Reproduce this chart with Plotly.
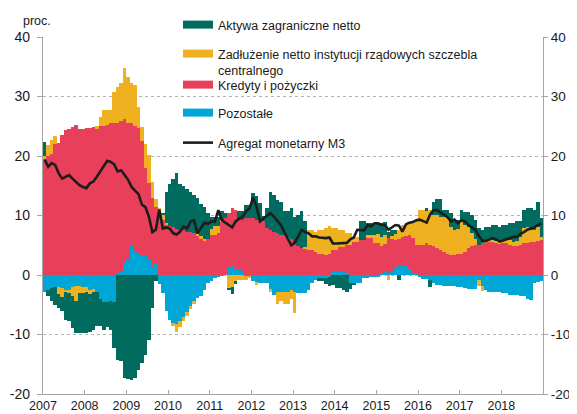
import plotly.graph_objects as go

# miesiące od 01.2007 do 12.2018, wartości w proc. (r/r)
lata = [str(r) for r in range(2007, 2019)]
poziomy = [-20, -10, 0, 10, 20, 30, 40]
etykiety_y = [str(v) for v in poziomy]

kredyty = [
    19.5, 20.0, 20.3, 22.0, 22.2, 23.5, 24.3, 24.5, 24.8, 25.2, 24.5, 24.5,
    24.7, 24.7, 24.8, 24.5, 25.0, 25.0, 25.2, 25.5, 25.5, 25.2, 25.3, 24.2,
    23.0, 20.7, 21.0, 21.2, 19.2, 14.7, 13.0, 11.6, 9.5, 10.5, 9.3, 8.5,
    8.2, 8.0, 7.8, 7.6, 7.5, 7.3, 7.2, 7.0, 6.6, 6.0, 5.8, 6.0,
    6.7, 6.8, 7.0, 9.0, 9.5, 9.0, 9.7, 9.9, 8.5, 8.7, 9.5, 9.5,
    9.5, 9.3, 9.2, 9.0, 7.9, 7.6, 7.3, 7.0, 6.7, 6.7, 6.4, 6.1,
    5.3, 4.9, 4.6, 4.3, 4.2, 4.2, 3.9, 3.6, 3.6, 3.4, 3.6, 3.5,
    3.5, 4.0, 4.2, 4.7, 5.0, 5.6, 5.6, 5.9, 5.9, 6.2, 6.2, 5.3,
    5.3, 4.5, 4.7, 6.0, 5.6, 4.5, 4.5, 4.7, 5.0, 5.7, 5.9, 4.9,
    5.0, 5.0, 5.3, 5.0, 4.8, 4.5, 4.2, 3.9, 3.6, 3.4, 3.4, 3.5,
    3.6, 3.9, 4.5, 4.8, 5.0, 5.0, 5.3, 5.4, 5.6, 5.6, 5.4, 5.3,
    5.3, 5.3, 5.0, 4.8, 4.9, 5.0, 5.3, 5.4, 5.6, 5.6, 5.7, 5.9,
]

pozostale = [
    -2.8, -2.5, -2.2, -2.0, -2.0, -2.2, -2.6, -2.5, -2.0, -1.8, -1.8, -2.0,
    -2.0, -2.5, -2.5, -2.8, -4.0, -4.5, -4.5, -4.3, -4.5, 0.3, 0.5, 2.0,
    2.5, 4.8, 4.0, 3.5, 3.3, 3.3, 2.5, 1.4, 2.0, -1.5, -3.0, -6.0,
    -7.5, -8.1, -8.3, -7.8, -7.0, -6.2, -5.2, -4.5, -3.9, -3.6, -2.5, -1.3,
    -1.0, -0.5, -0.3, -0.1, 0.0, 1.4, 1.6, 1.0, 0.8, 0.6, -0.2, -0.2,
    -1.0, -1.1, -1.3, -1.4, -1.4, -2.5, -3.4, -2.8, -2.8, -2.8, -2.8, -2.5,
    -2.8, -3.1, -3.1, -3.0, -2.5, -1.4, -0.8, -0.5, -0.5, -0.5, -0.3, 0.7,
    0.7, 0.7, 0.5, 0.3, -1.3, -1.4, -1.4, -1.3, -0.5, -0.5, -0.4, -0.3,
    -0.2, 0.3, 0.5, 0.3, 0.5, 1.4, 1.5, 1.7, 1.6, 1.0, 0.3, 0.1,
    -0.3, -0.6, -0.6, -0.8, -1.4, -1.7, -1.7, -1.8, -1.9, -1.9, -1.9, -2.0,
    -2.0, -2.1, -2.3, -2.4, -2.4, -0.8, -1.9, -2.6, -2.8, -2.8, -2.8, -2.8,
    -3.0, -3.1, -3.3, -3.4, -3.4, -3.5, -3.6, -4.1, -4.2, -1.4, -1.2, -1.0,
]

zadluzenie = [
    0.5, 1.8, 2.4, 1.3, -1.2, -1.5, -0.3, -0.5, -1.5, -2.5, -1.2, -1.0,
    -0.8, -0.7, -0.3, 0.5, 1.5, 2.7, 2.5, 2.3, 5.3, 6.1, 6.4, 8.6,
    7.8, 6.7, 7.0, 3.5, 2.4, 4.0, 4.7, 2.6, 1.3, 0.8, 0.8, 0.3,
    0.0, -0.5, -1.2, -1.0, -0.8, -0.7, -0.5, -0.3, 0.3, 0.5, 0.3, 0.0,
    1.0, 1.4, 1.3, 0.2, 0.0, -2.2, -2.0, -1.0, -0.8, -0.8, -0.6, -0.3,
    0.0, -0.5, 0.0, 0.0, 0.0, -0.3, 0.0, -2.0, -1.5, -2.0, -2.0, -1.5,
    -3.6, 0.0, 0.0, 0.4, 3.4, 3.4, 3.4, 4.0, 4.0, 4.5, 4.6, 3.7,
    3.7, 2.9, 2.9, 2.0, 2.0, 0.8, 0.8, 0.0, 0.0, 0.5, 0.5, 1.4,
    1.6, 1.6, 1.5, -0.8, 0.5, 1.0, 1.6, 2.0, 1.8, 2.0, 2.5, 4.2,
    5.9, 5.9, 5.5, 6.0, 5.3, 5.6, 5.6, 5.9, 6.0, 4.7, 4.2, 4.3,
    5.4, 4.5, 3.5, 2.2, 1.0, -1.0, -0.8, 0.2, 0.2, 0.2, 0.3, 0.3,
    0.5, 0.8, 0.9, 0.8, 0.8, 1.4, 2.6, 2.7, 2.0, 2.0, 2.3, 0.5,
]

aktywa = [
    2.3, -1.0, -2.1, -3.0, -2.3, -2.3, -4.7, -4.8, -5.4, -5.5, -6.8, -6.8,
    -7.0, -6.3, -6.4, -5.8, -4.6, -4.7, -4.3, -5.0, -7.8, -14.3, -14.5, -17.3,
    -17.5, -17.6, -17.3, -16.0, -14.8, -13.5, -10.9, -5.6, -1.0, 0.0, 0.3, 5.2,
    7.1, 8.1, 9.3, 7.7, 7.5, 7.2, 6.8, 6.5, 6.1, 5.5, 5.3, 4.5,
    2.1, 1.6, 1.5, 1.5, 1.0, -0.3, -1.2, -0.5, 1.4, 1.4, 2.3, 2.3,
    4.3, 3.9, 2.9, 1.0, 3.4, 6.4, 6.2, 5.6, 5.6, 4.0, 4.3, 5.1,
    4.5, 5.2, 6.1, 4.3, 0.0, 0.0, 0.0, -0.5, -0.5, -1.0, -1.5, -1.6,
    -2.2, -2.2, -2.5, -2.8, -1.0, -0.3, 0.0, 3.1, 3.1, 2.0, 2.0, 2.0,
    1.8, 2.3, 2.2, 1.0, 0.9, 0.7, -0.8, 0.0, 0.0, 0.0, 0.0, 0.0,
    0.0, 0.0, 0.4, -1.2, 2.2, 2.7, 3.0, 1.2, 1.4, 2.3, 1.7, 1.5,
    2.0, 2.2, 2.6, 3.1, 3.2, 2.9, 2.2, 2.5, 2.3, 2.6, 2.7, 2.5,
    2.6, 2.3, 2.8, 3.1, 3.3, 2.6, 3.0, 3.1, 3.7, 3.4, 4.2, 3.1,
]

m3 = [
    19.4, 18.2, 18.8, 18.5, 17.1, 16.2, 16.5, 16.8, 16.2, 15.7, 15.1, 14.8,
    14.6, 15.4, 15.7, 16.5, 17.4, 18.5, 19.2, 19.0, 18.6, 17.4, 17.6, 16.8,
    16.0, 14.8, 14.2, 13.6, 11.8, 11.4, 9.8, 7.2, 7.6, 11.0, 7.8, 8.0,
    7.8, 7.0, 6.8, 7.3, 8.2, 7.8, 9.0, 9.2, 7.0, 8.0, 8.8, 8.6,
    9.0, 9.0, 10.9, 9.2, 8.8, 8.4, 8.0, 9.0, 9.5, 9.8, 10.7, 11.2,
    13.0, 11.5, 9.0, 9.5, 10.0, 10.4, 9.8, 9.0, 8.4, 7.2, 6.0, 5.0,
    5.4, 6.4, 7.6, 7.2, 7.0, 6.5, 6.5, 6.3, 6.2, 6.2, 6.3, 5.3,
    5.3, 5.3, 5.3, 5.4, 6.0, 6.3, 7.6, 7.6, 7.5, 8.4, 8.2, 8.7,
    8.7, 8.4, 8.4, 7.6, 8.0, 8.4, 8.3, 7.3, 8.5, 8.8, 8.9, 9.2,
    9.3, 9.0, 8.8, 10.2, 10.9, 10.9, 10.5, 10.2, 9.7, 9.0, 9.3, 8.7,
    9.2, 9.0, 8.4, 8.0, 7.6, 6.6, 5.8, 5.7, 6.0, 6.2, 6.0, 5.6,
    5.8, 6.0, 6.2, 6.4, 6.4, 6.9, 7.2, 7.6, 7.8, 8.0, 8.4, 8.7,
]

ZIELONY = "#006b5e"
ZOLTY = "#efb11f"
CZERWONY = "#e8405b"
NIEBIESKI = "#00a6d6"
CZARNY = "#1d1d1b"
FONT = "Liberation Sans, Arial, sans-serif"

x = [i + 0.5 for i in range(len(m3))]

fig = go.Figure()

# kolejność stosu: Pozostałe przy zerze, potem kredyty, zadłużenie, aktywa
for vals, kolor in [(pozostale, NIEBIESKI), (kredyty, CZERWONY),
                    (zadluzenie, ZOLTY), (aktywa, ZIELONY)]:
    fig.add_trace(go.Bar(x=x, y=vals, width=1, marker_color=kolor,
                         marker_line_width=0, showlegend=False))

fig.add_trace(go.Scatter(x=x, y=m3, mode="lines", name="Agregat monetarny M3",
                         line=dict(color=CZARNY, width=2.6), legend="legend5"))

# pusta seria, żeby narysować prawą oś
fig.add_trace(go.Scatter(x=[None], y=[None], yaxis="y2", showlegend=False,
                         hoverinfo="skip"))

# osobne legendy, żeby ustawić pozycje wpisów jak w oryginale
wpisy = [
    ("Aktywa zagraniczne netto", ZIELONY, "legend"),
    ("Zadłużenie netto instytucji rządowych szczebla<br>centralnego", ZOLTY, "legend2"),
    ("Kredyty i pożyczki", CZERWONY, "legend3"),
    ("Pozostałe", NIEBIESKI, "legend4"),
]
for nazwa, kolor, leg in wpisy:
    fig.add_trace(go.Scatter(x=[None], y=[None], mode="lines", name=nazwa,
                             line=dict(color=kolor, width=8), legend=leg))

# obszar wykresu na zdjęciu: x 43..543, y 37..394 (strona ma 8 px marginesu)
def px_x(p):
    return (p - 43) / 500.0


def px_y(p):
    return (394 - p) / 357.0


def leg(ypix, anchor="middle"):
    return dict(x=px_x(178), y=px_y(ypix), xref="paper", yref="paper",
                xanchor="left", yanchor=anchor, valign="top",
                bgcolor="rgba(0,0,0,0)", font=dict(family=FONT, size=12.5, color="#1a1a1a"))


os_y = dict(range=[-20, 40], tickmode="array", tickvals=poziomy, ticktext=etykiety_y,
            showgrid=True, gridcolor="#b3b3b3",
            griddash="dot", gridwidth=1, zeroline=False, showline=True,
            linecolor="#a6a6a6", linewidth=1.2, ticks="outside", ticklen=5,
            tickcolor="#a6a6a6", automargin=False, ticklabelstandoff=4,
            tickfont=dict(family=FONT, size=14, color="#1a1a1a"))

fig.update_layout(
    width=577, height=414,
    margin=dict(l=35, r=42, t=29, b=28, autoexpand=False),
    paper_bgcolor="white", plot_bgcolor="white",
    barmode="relative", bargap=0,
    font=dict(family=FONT, color="#1a1a1a"),
    xaxis=dict(range=[0, 144], tickmode="array", tickvals=list(range(0, 145, 12)),
               ticktext=lata + [""], showgrid=False, zeroline=False, showline=True,
               linecolor="#a6a6a6", linewidth=1.2, ticks="inside", ticklen=4,
               tickcolor="#a6a6a6", automargin=False,
               tickfont=dict(family=FONT, size=12.5, color="#1a1a1a")),
    yaxis=dict(os_y),
    yaxis2=dict(os_y, overlaying="y", side="right", anchor="x", showgrid=False,
                ticklen=4, ticklabelstandoff=0,
                tickfont=dict(family=FONT, size=13.5, color="#1a1a1a")),
    legend=leg(25),
    legend2=leg(39, "top"),
    legend3=leg(85),
    legend4=leg(113),
    legend5=leg(143),
    annotations=[dict(text="proc.", x=px_x(21), y=px_y(21),
                      xref="paper", yref="paper", xanchor="left", yanchor="middle",
                      showarrow=False, font=dict(family=FONT, size=12.5, color="#1a1a1a"))],
)

fig.write_html("out.html")
